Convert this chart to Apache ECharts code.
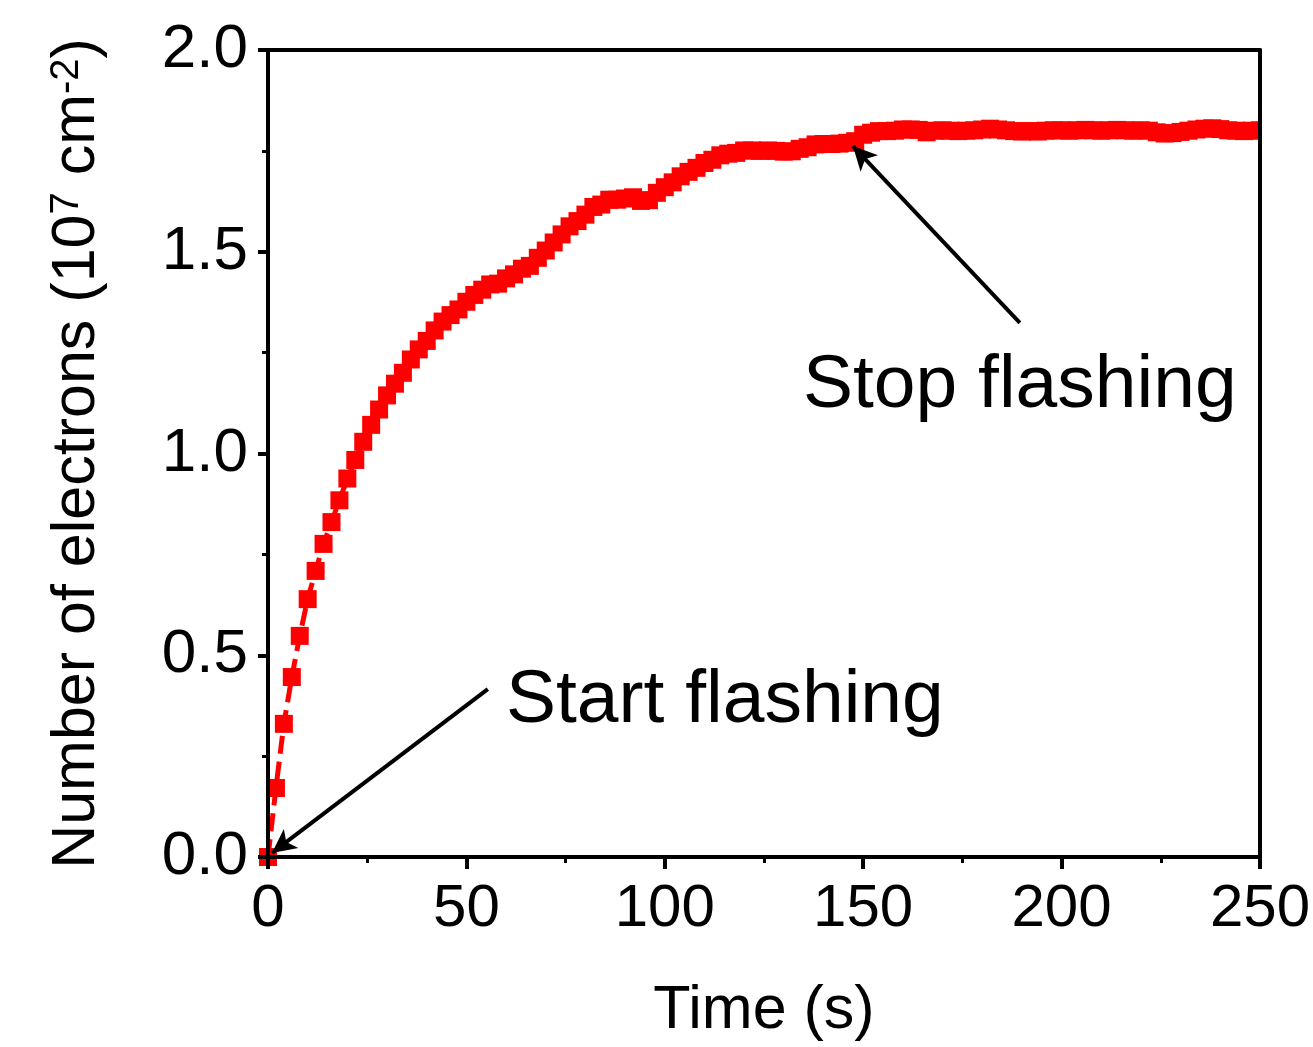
<!DOCTYPE html>
<html>
<head>
<meta charset="utf-8">
<script src="https://cdn.jsdelivr.net/npm/echarts@6/dist/echarts.min.js"></script>
<style>
html,body{margin:0;padding:0;background:#fff;}
#chart{width:1313px;height:1047px;}
</style>
</head>
<body>
<div id="chart"></div>
<script>
// ---- data ----
const times = [0,2,4,6,8,10,12,14,16,18,20,22,24,26,28,30,32,34,36,38,40,42,44,46,48,50,52,54,56,58,60,62,64,66,68,70,72,74,76,78,80,82,84,86,88,90,92,94,96,98,100,102,104,106,108,110,112,114,116,118,120,122,124,126,128,130,132,134,136,138,140,142,144,146,148,150,152,154,156,158,160,162,164,166,168,170,172,174,176,178,180,182,184,186,188,190,192,194,196,198,200,202,204,206,208,210,212,214,216,218,220,222,224,226,228,230,232,234,236,238,240,242,244,246,248,250];
const electrons = [0,0.171,0.330,0.446,0.548,0.639,0.709,0.776,0.830,0.884,0.938,0.984,1.029,1.071,1.109,1.144,1.173,1.200,1.233,1.258,1.279,1.305,1.327,1.343,1.357,1.376,1.393,1.406,1.419,1.421,1.434,1.444,1.458,1.465,1.485,1.503,1.523,1.543,1.563,1.576,1.592,1.611,1.617,1.629,1.629,1.632,1.635,1.626,1.628,1.646,1.660,1.672,1.687,1.698,1.708,1.720,1.728,1.739,1.743,1.745,1.751,1.751,1.750,1.751,1.750,1.748,1.749,1.755,1.759,1.766,1.767,1.767,1.768,1.770,1.774,1.790,1.795,1.799,1.799,1.800,1.803,1.803,1.802,1.796,1.800,1.801,1.800,1.799,1.800,1.801,1.803,1.805,1.803,1.801,1.799,1.798,1.799,1.798,1.800,1.801,1.801,1.800,1.801,1.802,1.801,1.800,1.801,1.802,1.801,1.800,1.801,1.800,1.796,1.793,1.794,1.797,1.800,1.803,1.805,1.806,1.804,1.801,1.800,1.799,1.800,1.801];
const xTitle = 'Time (s)';
const startLabel = 'Start flashing';
const stopLabel = 'Stop flashing';
// arrow endpoints in data coordinates [time, value]
const startArrow = [[55.4, 0.416], [1.0, 0.01]];
const stopArrow = [[189.5, 1.324], [147.4, 1.762]];

const FONT = '"Liberation Sans", Arial, sans-serif';
const chart = echarts.init(document.getElementById('chart'), null, {renderer:'canvas'});

const seriesData = times.map((t, i) => [t, electrons[i]]);

chart.setOption({
  animation: false,
  backgroundColor: '#fff',
  grid: {left: 268, right: 53, top: 50, bottom: 189, show: false},
  xAxis: [{
    type: 'value', min: 0, max: 250, interval: 50, z: 10,
    name: xTitle, nameLocation: 'middle', nameGap: 124,
    nameTextStyle: {fontFamily: FONT, fontSize: 61, color: '#000'},
    axisLine: {show: true, onZero: false, lineStyle: {color: '#000', width: 4}},
    axisTick: {show: true, inside: false, length: 12, lineStyle: {color: '#000', width: 4}},
    minorTick: {show: true, splitNumber: 2, length: 6, lineStyle: {color: '#000', width: 3}},
    axisLabel: {fontFamily: FONT, fontSize: 60, color: '#000', margin: 22},
    splitLine: {show: false}
  }, {
    type: 'value', min: 0, max: 250, position: 'top', z: 10,
    axisLine: {show: true, onZero: false, lineStyle: {color: '#000', width: 4}},
    axisTick: {show: false}, axisLabel: {show: false}, splitLine: {show: false}
  }],
  yAxis: [{
    type: 'value', min: 0, max: 2, interval: 0.5, z: 10,
    name: '{a|Number of electrons (10}{s|7}{a| cm}{s|-2}{a|)}',
    nameLocation: 'middle', nameGap: 160, nameRotate: 90,
    nameTextStyle: {
      fontFamily: FONT, color: '#000',
      rich: {
        a: {fontFamily: FONT, fontSize: 61, color: '#000', verticalAlign: 'bottom'},
        s: {fontFamily: FONT, fontSize: 40, color: '#000', verticalAlign: 'top'}
      }
    },
    axisLine: {show: true, onZero: false, lineStyle: {color: '#000', width: 4}},
    axisTick: {show: true, inside: false, length: 10, lineStyle: {color: '#000', width: 4}},
    minorTick: {show: true, splitNumber: 2, length: 6, lineStyle: {color: '#000', width: 3}},
    axisLabel: {fontFamily: FONT, fontSize: 62, color: '#000', margin: 20,
      formatter: v => v.toFixed(1)},
    splitLine: {show: false}
  }, {
    type: 'value', min: 0, max: 2, position: 'right', z: 10,
    axisLine: {show: true, onZero: false, lineStyle: {color: '#000', width: 4}},
    axisTick: {show: false}, axisLabel: {show: false}, splitLine: {show: false}
  }],
  graphic: [
    {type: 'rect', z: 5, shape: {x: 1262, y: 30, width: 60, height: 826}, style: {fill: '#fff'}},
    {type: 'text', z: 20, x: 803, y: 386, style: {text: stopLabel, font: '75px ' + FONT, fill: '#000', textAlign: 'left', textVerticalAlign: 'middle'}},
    {type: 'text', z: 20, x: 506, y: 701, style: {text: startLabel, font: '75px ' + FONT, fill: '#000', textAlign: 'left', textVerticalAlign: 'middle'}}
  ],
  series: [{
    type: 'line',
    data: seriesData,
    symbol: 'rect',
    symbolSize: 18,
    showAllSymbol: true,
    clip: true,
    itemStyle: {color: '#ff0000'},
    lineStyle: {color: '#ff0000', width: 5, type: [18, 8]},
    markLine: {
      silent: true,
      symbol: ['none', 'arrow'],
      symbolSize: [18, 24],
      label: {show: false},
      lineStyle: {color: '#000', width: 4, type: 'solid'},
      data: [
        [{coord: startArrow[0]}, {coord: startArrow[1]}],
        [{coord: stopArrow[0]}, {coord: stopArrow[1]}]
      ]
    }
  }]
});
</script>
</body>
</html>
